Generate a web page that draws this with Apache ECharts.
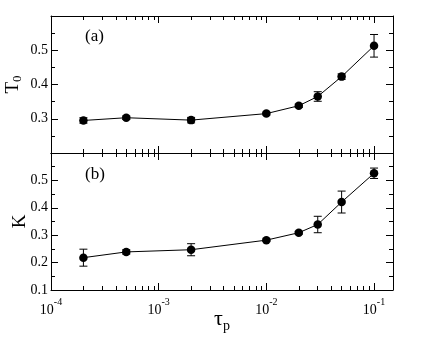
<!DOCTYPE html>
<html><head><meta charset="utf-8">
<script src="https://cdn.jsdelivr.net/npm/echarts@6/dist/echarts.min.js"></script>
<style>html,body{margin:0;padding:0;background:#fff}#c{width:443px;height:342px}</style>
</head><body><div id="c"></div>
<script>
const tau = [2e-4, 5e-4, 2e-3, 1e-2, 2e-2, 3e-2, 5e-2, 1e-1];
const T0 = [0.295, 0.303, 0.296, 0.315, 0.338, 0.365, 0.423, 0.513];
const T0err = [0.008, 0.005, 0.008, 0.004, 0.005, 0.014, 0.008, 0.033];
const K = [0.218, 0.239, 0.247, 0.282, 0.309, 0.339, 0.421, 0.526];
const Kerr = [0.031, 0.008, 0.022, 0.004, 0.005, 0.030, 0.040, 0.019];
const xMajorExp = [-4, -3, -2, -1];
const xMin = 1e-4, xMax = 0.15;
const yTopRange = [0.2, 0.6];
const yBotRange = [0.1, 0.6];

const FONT = 'Liberation Serif';
const lx = Math.log10(xMin), hx = Math.log10(xMax);
const minorVals = [];
for (let e = -4; e <= -1; e++) for (let m = 2; m <= 9; m++) { const v = Math.log10(m * Math.pow(10, e)); if (v < hx) minorVals.push(v); }

function xAx(gi, pos, major, labels) {
  return {
    type: 'value', gridIndex: gi, position: pos, min: lx, max: hx,
    splitLine: { show: false },
    nameMoveOverlap: false,
    axisLine: { show: major, onZero: false, lineStyle: { color: '#000', width: 1 } },
    axisTick: { show: true, inside: true, length: major ? 7 : 4, customValues: major ? xMajorExp : minorVals, lineStyle: { color: '#000', width: 1 } },
    axisLabel: labels ? {
      show: true, customValues: xMajorExp, margin: 7,
      formatter: v => '{b|10}{s|' + Math.round(v) + '}',
      rich: { b: { fontFamily: FONT, fontSize: 14, color: '#000', padding: [6, 0, 0, 0] }, s: { fontFamily: FONT, fontSize: 10, color: '#000', verticalAlign: 'top' } }
    } : { show: false }
  };
}
function yAx(gi, pos, range, labels, name, gap) {
  return {
    type: 'value', gridIndex: gi, position: pos, min: range[0], max: range[1], interval: 0.1,
    splitLine: { show: false },
    nameMoveOverlap: false,
    axisLine: { show: true, onZero: false, lineStyle: { color: '#000', width: 1 } },
    axisTick: { show: true, inside: true, length: 7, lineStyle: { color: '#000', width: 1 } },
    minorTick: { show: true, splitNumber: 2, length: 4, lineStyle: { color: '#000', width: 1 } },
    axisLabel: labels ? {
      show: true, margin: 3, fontFamily: FONT, fontSize: 14, color: '#000',
      formatter: v => (Math.abs(v - range[0]) < 1e-6 && gi === 0) || Math.abs(v - range[1]) < 1e-6 ? '' : v.toFixed(1)
    } : { show: false },
    name: name || '', nameLocation: 'middle', nameRotate: 90,
    nameGap: gap || 0,
    nameTextStyle: { rich: { m: { fontFamily: FONT, fontSize: 19, color: '#000' }, sub: { fontFamily: FONT, fontSize: 13, color: '#000', padding: [8, 0, 0, 0] } } }
  };
}
function errSeries(xi, yi, vals, errs) {
  return {
    type: 'custom', xAxisIndex: xi, yAxisIndex: yi, z: 3,
    data: tau.map((t, i) => [Math.log10(t), vals[i], errs[i]]),
    renderItem: (params, api) => {
      const x = api.value(0), y = api.value(1), e = api.value(2);
      const a = api.coord([x, y + e]), b = api.coord([x, y - e]);
      const w = 4;
      const st = { stroke: '#000', lineWidth: 1 };
      return { type: 'group', children: [
        { type: 'line', shape: { x1: a[0], y1: a[1], x2: b[0], y2: b[1] }, style: st },
        { type: 'line', shape: { x1: a[0] - w, y1: a[1], x2: a[0] + w, y2: a[1] }, style: st },
        { type: 'line', shape: { x1: b[0] - w, y1: b[1], x2: b[0] + w, y2: b[1] }, style: st }
      ] };
    }
  };
}
function lineSeries(xi, yi, vals) {
  return {
    type: 'line', xAxisIndex: xi, yAxisIndex: yi, z: 4,
    data: tau.map((t, i) => [Math.log10(t), vals[i]]),
    symbol: 'circle', symbolSize: 8.5, showSymbol: true,
    itemStyle: { color: '#000' }, lineStyle: { color: '#000', width: 1 },
    animation: false
  };
}

const chart = echarts.init(document.getElementById('c'), null, { renderer: 'canvas' });
chart.setOption({
  animation: false,
  backgroundColor: '#fff',
  title: [
    { text: '(a)', left: 80, top: 23, textStyle: { fontFamily: FONT, fontSize: 17, fontWeight: 'normal', color: '#000' } },
    { text: '(b)', left: 80, top: 161, textStyle: { fontFamily: FONT, fontSize: 17, fontWeight: 'normal', color: '#000' } }
  ],
  grid: [
    { left: 51, right: 50, top: 16, height: 137, containLabel: false, outerBoundsMode: 'none' },
    { left: 51, right: 50, top: 153, height: 137, containLabel: false, outerBoundsMode: 'none' }
  ],
  xAxis: [
    xAx(0, 'bottom', true, false), xAx(0, 'bottom', false, false),
    xAx(0, 'top', true, false), xAx(0, 'top', false, false),
    Object.assign(xAx(1, 'bottom', true, true), {
      name: '{m|τ}{sub|p}', nameLocation: 'middle', nameGap: 15,
      nameTextStyle: { rich: { m: { fontFamily: FONT, fontSize: 22, color: '#000' }, sub: { fontFamily: FONT, fontSize: 14, color: '#000', padding: [14, 0, 0, 0] } } }
    }),
    xAx(1, 'bottom', false, false),
    xAx(1, 'top', true, false), xAx(1, 'top', false, false)
  ],
  yAxis: [
    yAx(0, 'left', yTopRange, true, '{m|T}{sub|0}', 27), yAx(0, 'right', yTopRange, false),
    yAx(1, 'left', yBotRange, true, '{m|K}', 21), yAx(1, 'right', yBotRange, false)
  ],
  series: [
    errSeries(0, 0, T0, T0err), lineSeries(0, 0, T0),
    errSeries(4, 2, K, Kerr), lineSeries(4, 2, K)
  ]
});
</script></body></html>
